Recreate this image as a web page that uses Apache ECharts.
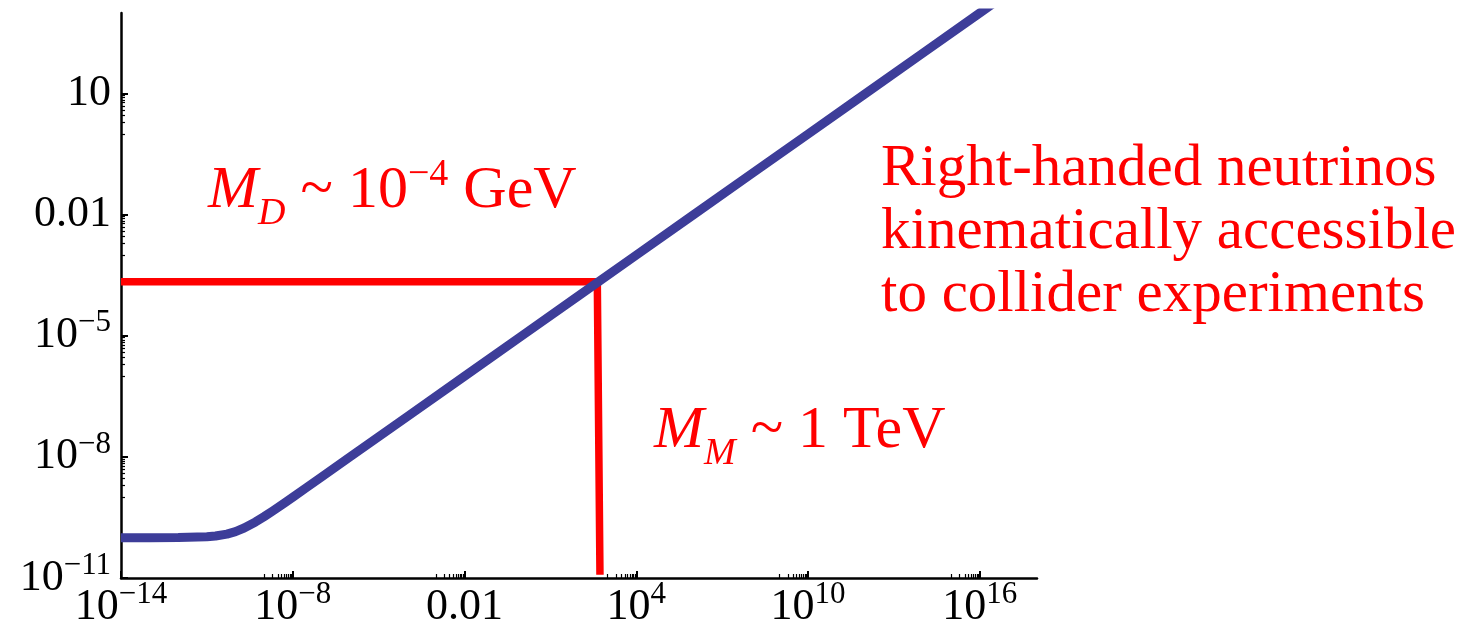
<!DOCTYPE html>
<html><head><meta charset="utf-8">
<script src="https://cdn.jsdelivr.net/npm/echarts@6/dist/echarts.min.js"></script>
<style>html,body{margin:0;padding:0;background:#fff}#c{width:1477px;height:622px}</style>
</head><body><div id="c"></div>
<script>
// Right-handed neutrino mass M_M (x) vs Dirac mass M_D (y), both in GeV
const massM = [1e-14, 1e-13, 1e-12, 1e-11, 2e-11, 5e-11, 1e-10, 2e-10, 5e-10, 1e-9, 2e-9, 5e-9, 1e-8, 3e-8, 1e-7, 1e-6, 1e-4, 1e-2, 1, 1e2, 1e4, 1e6, 1e8, 1e10, 1e12, 1e14, 1e16, 1e17];
const massD = [1.000e-10, 1.000e-10, 1.005e-10, 1.049e-10, 1.095e-10, 1.225e-10, 1.414e-10, 1.732e-10, 2.449e-10, 3.317e-10, 4.583e-10, 7.141e-10, 1.005e-9, 1.735e-9, 3.164e-9, 1e-8, 1e-7, 1e-6, 1e-5, 1e-4, 1e-3, 1e-2, 0.1, 1, 10, 100, 1000, 3162];
// red guide line (M_M ~ 1 TeV, M_D ~ 1e-4 GeV)
const guideX = [1e-14, 436, 540];
const guideY = [2.2e-4, 2.2e-4, 1.2e-11];
// axes (log10 exponents)
const xRange = [-14, 18];
const yRange = [-11, 3];
const xTicks = [-14, -8, -2, 4, 10, 16];
const xTickLabels = ['10^−14', '10^−8', '0.01', '10^4', '10^10', '10^16'];
const yTicks = [-11, -8, -5, -2, 1];
const yTickLabels = ['10^−11', '10^−8', '10^−5', '0.01', '10'];

const lg = Math.log10;
function richLabel(s) {
  const p = s.split('^');
  return p.length === 2 ? '{b|' + p[0] + '}{s|' + p[1] + '}' : '{b|' + s + '}';
}
function minorTicks(majors, lo) {
  const out = [];
  majors.forEach(e => { for (let k = 1; k <= 9; k++) { const v = e - 1 + lg(k); if (v > lo + 1e-9) out.push(v); } });
  return out;
}
const FONT = 'Liberation Serif';
const tickRich = {
  b: { fontFamily: FONT, fontSize: 44, lineHeight: 62, color: '#000' },
  s: { fontFamily: FONT, fontSize: 31, verticalAlign: 'top', padding: [3, 0, 0, 0], color: '#000' }
};
function fmt(ticks, labels) {
  return v => { const i = ticks.findIndex(t => Math.abs(t - v) < 1e-6); return i < 0 ? '' : richLabel(labels[i]); };
}
const baseAxis = (range) => ({
  type: 'value', min: range[0], max: range[1], splitLine: { show: false }
});
const RED = '#ff0000';
const mathRich = {
  i: { fontFamily: FONT, fontSize: 60, lineHeight: 100, fontStyle: 'italic', fill: RED },
  n: { fontFamily: FONT, fontSize: 60, lineHeight: 100, fill: RED },
  sub: { fontFamily: FONT, fontSize: 38, fontStyle: 'italic', verticalAlign: 'bottom', padding: [0, 0, 8, 0], fill: RED },
  sup: { fontFamily: FONT, fontSize: 38, verticalAlign: 'top', padding: [15, 0, 0, 0], fill: RED }
};

const chart = echarts.init(document.getElementById('c'), null, { renderer: 'canvas' });
chart.setOption({
  animation: false,
  backgroundColor: '#fff',
  grid: { left: 121, top: 13, width: 916, height: 565, containLabel: false, outerBoundsMode: 'none' },
  xAxis: [
    Object.assign(baseAxis(xRange), {
      position: 'bottom',
      axisLine: { show: true, onZero: false, lineStyle: { color: '#000', width: 2.5 } },
      axisTick: { show: true, inside: true, length: 7, lineStyle: { color: '#000', width: 2 }, customValues: xTicks },
      axisLabel: { show: true, margin: -2, customValues: xTicks, formatter: fmt(xTicks, xTickLabels), rich: tickRich }
    }),
    Object.assign(baseAxis(xRange), {
      position: 'bottom',
      axisLine: { show: false, onZero: false },
      axisTick: { show: true, inside: true, length: 4, lineStyle: { color: '#000', width: 1.2 }, customValues: minorTicks(xTicks, xRange[0]) },
      axisLabel: { show: false }
    })
  ],
  yAxis: [
    Object.assign(baseAxis(yRange), {
      position: 'left',
      axisLine: { show: true, onZero: false, lineStyle: { color: '#000', width: 2.5 } },
      axisTick: { show: true, inside: true, length: 7, lineStyle: { color: '#000', width: 2 }, customValues: yTicks },
      axisLabel: { show: true, margin: 10, customValues: yTicks, formatter: fmt(yTicks, yTickLabels), rich: tickRich }
    }),
    Object.assign(baseAxis(yRange), {
      position: 'left',
      axisLine: { show: false, onZero: false },
      axisTick: { show: true, inside: true, length: 4, lineStyle: { color: '#000', width: 1.2 }, customValues: minorTicks(yTicks, yRange[0]) },
      axisLabel: { show: false }
    })
  ],
  series: [
    {
      type: 'line', xAxisIndex: 0, yAxisIndex: 0, symbol: 'none', silent: true, z: 2,
      data: guideX.map((x, i) => [lg(x), lg(guideY[i])]),
      lineStyle: { color: RED, width: 7.5, join: 'miter', cap: 'butt' }
    },
    {
      type: 'line', xAxisIndex: 0, yAxisIndex: 0, symbol: 'none', silent: true, z: 3,
      smooth: false, clip: true,
      data: massM.map((x, i) => [lg(x), lg(massD[i])]),
      lineStyle: { color: '#3d3d99', width: 9, join: 'round' }
    }
  ],
  graphic: [
    {
      type: 'text', x: 208, y: 191, silent: true,
      style: {
        text: '{i|M}{sub|D}{n| ~ 10}{sup|−4}{n| GeV}',
        fill: RED, align: 'left', verticalAlign: 'middle', rich: mathRich
      }
    },
    {
      type: 'text', x: 654, y: 431, silent: true,
      style: {
        text: '{i|M}{sub|M}{n| ~ 1 TeV}',
        fill: RED, align: 'left', verticalAlign: 'middle', rich: mathRich
      }
    },
    {
      type: 'text', x: 881, y: 232, silent: true,
      style: {
        text: 'Right-handed neutrinos\nkinematically accessible\nto collider experiments',
        fill: RED, fontFamily: FONT, fontSize: 59, lineHeight: 63,
        align: 'left', verticalAlign: 'middle'
      }
    }
  ]
});
</script>
</body></html>
